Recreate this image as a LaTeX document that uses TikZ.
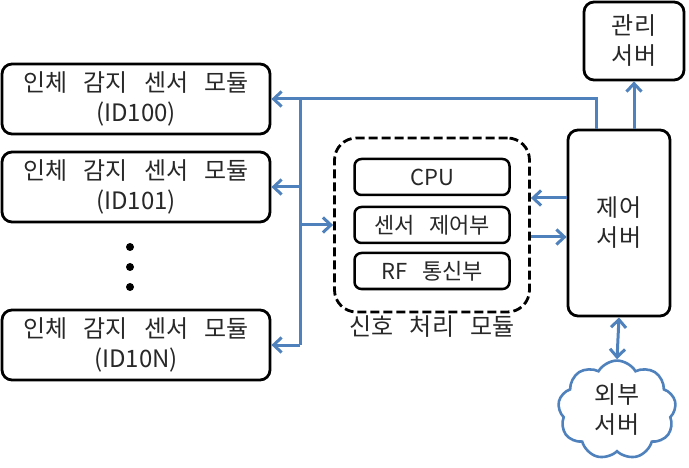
\documentclass[tikz,border=0pt]{standalone}
\usepackage{fontspec}
\setmainfont{Noto Sans CJK KR}[WordSpace=3]
\usetikzlibrary{positioning}
\usetikzlibrary{arrows.meta,shapes.symbols}
\definecolor{linkblue}{RGB}{79,129,189}
\definecolor{txtgray}{RGB}{40,40,40}

\begin{document}
\begin{tikzpicture}[x=1pt,y=-1pt,
  box/.style={draw, line width=2.8pt, rounded corners=10pt, align=center, text=txtgray, inner sep=0pt},
  module/.style={box, minimum width=268pt, minimum height=70pt, font=\fontsize{24}{30}\selectfont},
  part/.style={box, rounded corners=7pt, line width=2.5pt, minimum width=155pt, minimum height=36pt, font=\fontsize{22}{24}\selectfont},
  server/.style={box, font=\fontsize{24}{30}\selectfont},
  link/.style={draw=linkblue, line width=3pt},
  arr/.style={link, -{Straight Barb[length=8pt,width=15pt]}}]

\useasboundingbox (0,0) rectangle (689,468);

% sensor modules
\node[module] (mod100) at (136,99) {인체 감지 센서 모듈\\(ID100)};
\node[module] (mod101) at (136,187) {인체 감지 센서 모듈\\(ID101)};
\node[module] (mod10N) at (136,345) {인체 감지 센서 모듈\\(ID10N)};
\foreach \y in {247,267,287}
  \fill (130,\y) circle (4pt);

% signal processing module
\node[box, dashed, dash pattern=on 9pt off 4pt, rounded corners=22pt, minimum width=195pt, minimum height=174pt] (sigbox) at (432,225) {};
\node[part] (cpu) at (432,177) {CPU};
\node[part] (sensorctl) at (432,225) {센서 제어부};
\node[part] (rfcomm) at (432,271) {RF 통신부};
\node[text=txtgray, font=\fontsize{24}{26}\selectfont, below=-1pt of sigbox] (siglabel) {신호 처리 모듈};

% servers
\node[server, minimum width=102pt, minimum height=186pt] (ctrlsrv) at (619,223) {제어\\서버};
\node[server, minimum width=100pt, minimum height=78pt] (mgmtsrv) at (634,41) {관리\\서버};
\node[cloud, cloud puffs=9, cloud puff arc=120, aspect=1.3, draw=linkblue, line width=2.6pt,
  minimum width=118pt, minimum height=88pt, align=center, text=txtgray,
  font=\fontsize{24}{30}\selectfont] (extsrv) at (617,410) {외부\\서버};

% connectors
\coordinate (busTop) at (300,99);
\draw[arr] ([xshift=30pt]ctrlsrv.north west) |- (mod100.east);
\draw[link] (busTop) -- (busTop |- mod10N.east);
\draw[arr] (busTop |- mod101.east) -- (mod101.east);
\draw[arr] (busTop |- mod10N.east) -- (mod10N.east);
\draw[arr] (busTop |- sigbox.west) -- (sigbox.west);
\draw[arr] ([yshift=27pt]ctrlsrv.west |- sigbox.east) -- ([yshift=27pt]sigbox.east);
\draw[arr] ([yshift=-12pt]sigbox.east) -- ([yshift=-12pt]ctrlsrv.west |- sigbox.east);
\draw[arr] (ctrlsrv.north -| mgmtsrv.south) -- (mgmtsrv.south);
\draw[arr, {Straight Barb[length=8pt,width=15pt]}-{Straight Barb[length=8pt,width=15pt]}] (ctrlsrv.south) -- (extsrv.north);

\end{tikzpicture}
\end{document}
